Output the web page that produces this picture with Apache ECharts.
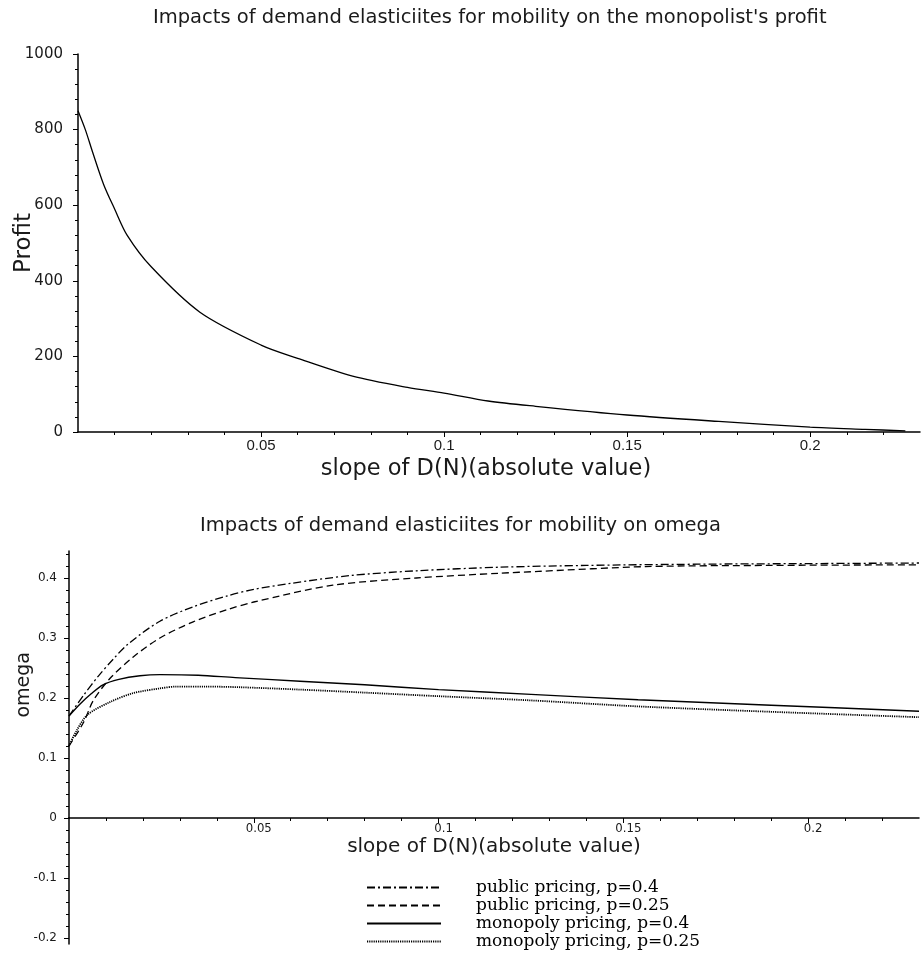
<!DOCTYPE html>
<html>
<head>
<meta charset="utf-8">
<script src="https://cdn.jsdelivr.net/npm/echarts@6/dist/echarts.min.js"></script>
<style>
html,body{margin:0;padding:0;background:#fff;}
#chart{width:921px;height:953px;}
</style>
</head>
<body>
<div id="chart"></div>
<script>
// ---- Data ----
const profitX = [0, 0.002, 0.004, 0.007, 0.010, 0.0134, 0.020, 0.0333, 0.050, 0.060, 0.075, 0.090, 0.100, 0.112, 0.125, 0.150, 0.175, 0.200, 0.215, 0.226];
const profitY = [850, 800, 740, 655, 590, 521, 437, 317, 230, 195, 148, 118, 103, 82, 68, 45, 28, 13, 7, 3];

const pubP04X = [0, 0.004, 0.008, 0.012, 0.016, 0.0246, 0.0336, 0.0427, 0.050, 0.060, 0.076, 0.094, 0.1166, 0.140, 0.170, 0.200, 0.230];
const pubP04Y = [0.170, 0.205, 0.237, 0.265, 0.290, 0.328, 0.352, 0.370, 0.381, 0.391, 0.404, 0.412, 0.418, 0.421, 0.423, 0.424, 0.425];

const pubP025X = [0, 0.004, 0.0065, 0.011, 0.0173, 0.0246, 0.0336, 0.0427, 0.050, 0.0714, 0.094, 0.1166, 0.127, 0.156, 0.190, 0.230];
const pubP025Y = [0.120, 0.160, 0.195, 0.232, 0.268, 0.300, 0.327, 0.347, 0.360, 0.388, 0.400, 0.408, 0.411, 0.419, 0.421, 0.422];

const monP04X = [0, 0.003, 0.006, 0.0092, 0.0135, 0.0192, 0.0246, 0.035, 0.045, 0.0625, 0.080, 0.100, 0.125, 0.154, 0.190, 0.230];
const monP04Y = [0.170, 0.190, 0.207, 0.222, 0.231, 0.237, 0.239, 0.238, 0.234, 0.228, 0.222, 0.214, 0.206, 0.197, 0.188, 0.178];

const monP025X = [0, 0.002, 0.005, 0.011, 0.0173, 0.0246, 0.029, 0.037, 0.046, 0.0625, 0.080, 0.100, 0.125, 0.154, 0.190, 0.230];
const monP025Y = [0.120, 0.145, 0.172, 0.193, 0.208, 0.216, 0.219, 0.219, 0.218, 0.214, 0.209, 0.203, 0.196, 0.186, 0.177, 0.168];

// ---- Tick labels ----
const topXTicks = [0.05, 0.1, 0.15, 0.2];
const topXMinor = [0.01,0.02,0.03,0.04,0.06,0.07,0.08,0.09,0.11,0.12,0.13,0.14,0.16,0.17,0.18,0.19,0.21,0.22];
const topYTicks = [0, 200, 400, 600, 800, 1000];
const topYMinor = [40,80,120,160,240,280,320,360,440,480,520,560,640,680,720,760,840,880,920,960];
const botXTicks = [0.05, 0.1, 0.15, 0.2];
const botXMinor = topXMinor;
const botYTicksPos = [0, 0.1, 0.2, 0.3, 0.4];
const botYMinorPos = [0.02,0.04,0.06,0.08,0.12,0.14,0.16,0.18,0.22,0.24,0.26,0.28,0.32,0.34,0.36,0.38,0.42,0.44];
const botYTicksNeg = [-0.2, -0.1];
const botYMinorNeg = [-0.18,-0.16,-0.14,-0.12,-0.08,-0.06,-0.04,-0.02];

const names = {
  pub04: 'public pricing, p=0.4',
  pub025: 'public pricing, p=0.25',
  mon04: 'monopoly pricing, p=0.4',
  mon025: 'monopoly pricing, p=0.25'
};

function pairs(xs, ys){ return xs.map((x,i)=>[x, ys[i]]); }
const plain = v => String(v);

const SANS = '"DejaVu Sans", "Liberation Sans", sans-serif';
const LSANS = '"Liberation Sans", Arial, sans-serif';
const NARROW = '"Liberation Sans Narrow", "DejaVu Sans Condensed", "Liberation Sans", sans-serif';
const SERIF = '"DejaVu Serif", "Liberation Serif", serif';
const BLACK = '#000';
const TEXT = '#1a1a1a';

const chart = echarts.init(document.getElementById('chart'), null, {renderer:'canvas'});

function majorAxis(dim, grid, min, max, ticks, label, extra){
  return Object.assign({
    type:'value', gridIndex:grid, min:min, max:max,
    position: dim === 'x' ? 'bottom' : 'left',
    axisLine:{show:true, onZero:false, lineStyle:{color:BLACK, width:1.5}},
    axisTick:{show:true, length:5, customValues:ticks, lineStyle:{color:BLACK, width:1}},
    axisLabel:Object.assign({show:true, customValues:ticks, formatter:plain, color:TEXT}, label),
    splitLine:{show:false}
  }, extra||{});
}
function minorAxis(dim, grid, min, max, ticks){
  return {
    type:'value', gridIndex:grid, min:min, max:max,
    position: dim === 'x' ? 'bottom' : 'left', offset:0,
    axisLine:{show:false, onZero:false},
    axisTick:{show:true, length:3, customValues:ticks, lineStyle:{color:BLACK, width:1}},
    axisLabel:{show:false}, splitLine:{show:false}
  };
}

const option = {
  animation:false,
  backgroundColor:'#fff',
  title:[
    {text:"Impacts of demand elasticiites for mobility on the monopolist's profit", left:148, top:3,
     textStyle:{fontFamily:SANS, fontWeight:'normal', fontSize:19.5, color:TEXT}},
    {text:'Impacts of demand elasticiites for mobility on omega', left:'center', top:511,
     textStyle:{fontFamily:SANS, fontWeight:'normal', fontSize:19.5, color:TEXT}}
  ],
  grid:[
    {left:78, width:842, top:54, height:378, containLabel:false, outerBoundsMode:'none'},
    {left:69, width:850, top:551, height:267, containLabel:false, outerBoundsMode:'none'},
    {left:69, width:850, top:818, height:126, containLabel:false, outerBoundsMode:'none'}
  ],
  xAxis:[
    majorAxis('x', 0, 0, 0.23, topXTicks, {fontFamily:LSANS, fontSize:15, margin:6},
      {name:'slope of D(N)(absolute value)', nameLocation:'middle', nameGap:26,
       nameTextStyle:{fontFamily:SANS, fontSize:22.5, color:TEXT, padding:[0,26,0,0]}}),
    minorAxis('x', 0, 0, 0.23, topXMinor),
    majorAxis('x', 1, 0, 0.23, botXTicks, {fontFamily:NARROW, fontSize:13, margin:4, padding:[0,0,0,10]},
      {name:'slope of D(N)(absolute value)', nameLocation:'middle', nameGap:19,
       nameTextStyle:{fontFamily:SANS, fontSize:20, color:TEXT}}),
    minorAxis('x', 1, 0, 0.23, botXMinor),
    {type:'value', gridIndex:2, min:0, max:0.23, show:false}
  ],
  yAxis:[
    majorAxis('y', 0, 0, 1000, topYTicks, {fontFamily:SANS, fontSize:15, margin:15}),
    minorAxis('y', 0, 0, 1000, topYMinor),
    majorAxis('y', 1, 0, 0.445, botYTicksPos, {fontFamily:SANS, fontSize:12, margin:12}),
    minorAxis('y', 1, 0, 0.445, botYMinorPos),
    majorAxis('y', 2, -0.21, 0, botYTicksNeg, {fontFamily:SANS, fontSize:12, margin:12}),
    minorAxis('y', 2, -0.21, 0, botYMinorNeg)
  ],
  legend:{
    orient:'vertical', left:366, top:879, padding:0, itemWidth:74, itemHeight:13, itemGap:1,
    data:[names.pub04, names.pub025, names.mon04, names.mon025],
    itemStyle:{opacity:0, color:'rgba(0,0,0,0)', borderWidth:0},
    textStyle:{fontFamily:SERIF, fontSize:17, color:BLACK, padding:[0,0,0,30]},
    selectedMode:false
  },
  graphic:[
    {type:'text', left:13, top:213, rotation:Math.PI/2,
     style:{text:'Profit', font:'23px "DejaVu Sans", "Liberation Sans", sans-serif', fill:TEXT}},
    {type:'text', left:15, top:652, rotation:Math.PI/2,
     style:{text:'omega', font:'19px "DejaVu Sans", "Liberation Sans", sans-serif', fill:TEXT}}
  ],
  series:[
    {type:'line', name:'profit', xAxisIndex:0, yAxisIndex:0, data:pairs(profitX, profitY),
     smooth:0.3, symbol:'none', lineStyle:{color:BLACK, width:1.3}},
    {type:'line', name:names.pub04, xAxisIndex:2, yAxisIndex:2, data:pairs(pubP04X, pubP04Y),
     smooth:0.3, symbol:'none', itemStyle:{color:BLACK}, lineStyle:{color:BLACK, width:1.3, type:[8,3,2,3]}},
    {type:'line', name:names.pub025, xAxisIndex:2, yAxisIndex:2, data:pairs(pubP025X, pubP025Y),
     smooth:0.3, symbol:'none', itemStyle:{color:BLACK}, lineStyle:{color:BLACK, width:1.3, type:[7,4]}},
    {type:'line', name:names.mon04, xAxisIndex:2, yAxisIndex:2, data:pairs(monP04X, monP04Y),
     smooth:0.3, symbol:'none', itemStyle:{color:BLACK}, lineStyle:{color:BLACK, width:1.4}},
    {type:'line', name:names.mon025, xAxisIndex:2, yAxisIndex:2, data:pairs(monP025X, monP025Y),
     smooth:0.3, symbol:'none', itemStyle:{color:BLACK}, lineStyle:{color:BLACK, width:1.8, type:[1.2,1]}}
  ]
};
chart.setOption(option);
</script>
</body>
</html>
